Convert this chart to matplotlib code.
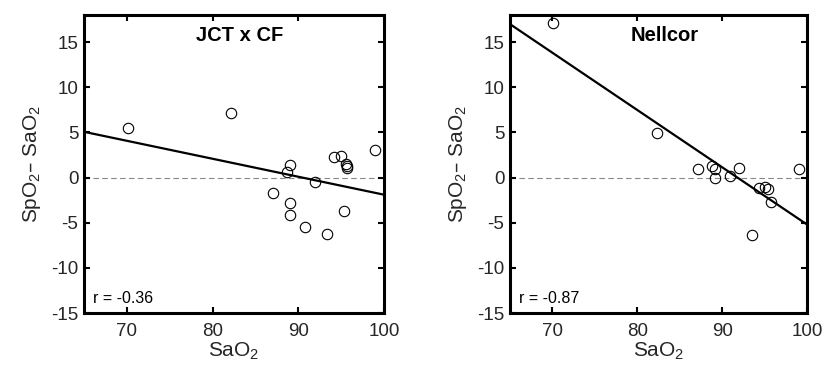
import numpy as np
import matplotlib
matplotlib.use("Agg")
import matplotlib.pyplot as plt

# -- data --
sao2_jct = [70.1, 82.2, 87.0, 88.7, 89.0, 89.0, 89.0, 90.8, 91.9, 93.4,
            94.2, 95.0, 95.3, 95.6, 95.7, 95.7, 99.0]
diff_jct = [5.5, 7.2, -1.7, 0.6, 1.4, -2.8, -4.2, -5.5, -0.5, -6.2,
            2.3, 2.4, -3.7, 1.5, 1.3, 1.1, 3.0]

sao2_nel = [70.1, 82.3, 87.1, 88.8, 89.1, 89.1, 90.9, 92.0, 93.5, 94.3,
            95.1, 95.4, 95.8, 99.1]
diff_nel = [17.1, 4.9, 1.0, 1.3, 1.0, 0.0, 0.2, 1.1, -6.4, -1.2,
            -1.0, -1.3, -2.7, 1.0]

fit_jct = (-0.199, 18.0)    # slope, intercept
fit_nel = (-0.634, 58.2)

titles = ["JCT x CF", "Nellcor"]
r_text = ["r = -0.36", "r = -0.87"]

xticks = [70, 80, 90, 100]
yticks = [-15, -10, -5, 0, 5, 10, 15]

plt.rcParams['font.family'] = ['Liberation Sans', 'DejaVu Sans']
plt.rcParams['mathtext.default'] = 'regular'
plt.rcParams['axes.unicode_minus'] = False

fig = plt.figure(figsize=(8.24, 3.76), dpi=100)
W, H = 824, 376
ax1 = fig.add_axes([84 / W, 63 / H, 300 / W, 298 / H])
ax2 = fig.add_axes([510 / W, 63 / H, 297 / W, 298 / H])

panels = [(ax1, sao2_jct, diff_jct, fit_jct), (ax2, sao2_nel, diff_nel, fit_nel)]
for i, (ax, x, y, fit) in enumerate(panels):
    ax.set_xlim(65, 100)
    ax.set_ylim(-15, 18)
    ax.axhline(0, color='#888888', lw=0.8, ls=(0, (5, 3)), zorder=1)
    xs = np.array(ax.get_xlim())
    ax.plot(xs, fit[0] * xs + fit[1], color='black', lw=1.6, zorder=2)
    ax.plot(x, y, 'o', mfc='none', mec='black', ms=7.5, mew=0.8, zorder=3,
            clip_on=False)
    ax.set_xticks(xticks)
    ax.set_yticks(yticks)
    ax.tick_params(direction='in', top=True, right=True, length=4, width=1.5,
                   labelsize=13.5, labelcolor='#262626', pad=4)
    ax.tick_params(axis='x', pad=7)
    for s in ax.spines.values():
        s.set_linewidth(2.2)
    ax.set_xlabel('SaO$_2$', fontsize=15, color='#262626', labelpad=1)
    ax.set_ylabel('SpO$_2$\u2013 SaO$_2$', fontsize=15, color='#262626',
                  labelpad=6)
    ax.text(0.52, 0.93, titles[i], transform=ax.transAxes, ha='center',
            va='center', fontsize=14.5, fontweight='bold')
    ax.text(0.03, 0.05, r_text[i], transform=ax.transAxes, ha='left',
            va='center', fontsize=11.5)

fig.savefig("out.png", dpi=100)
